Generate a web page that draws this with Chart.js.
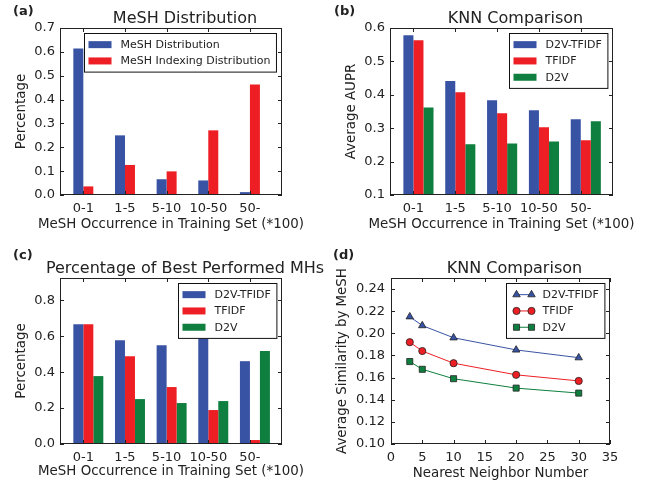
<!DOCTYPE html>
<html>
<head>
<meta charset="utf-8">
<script src="https://cdn.jsdelivr.net/npm/chart.js@4/dist/chart.umd.min.js"></script>
<style>
  body { margin: 0; background: #fff; }
  #wrap { position: relative; width: 657px; height: 486px; }
  canvas { position: absolute; }
</style>
</head>
<body>
<div id="wrap">
  <canvas id="chartA" width="330" height="240" style="left:0;top:0"></canvas>
  <canvas id="chartB" width="327" height="240" style="left:330px;top:0"></canvas>
  <canvas id="chartC" width="330" height="246" style="left:0;top:240px"></canvas>
  <canvas id="chartD" width="327" height="246" style="left:330px;top:240px"></canvas>
</div>
<script>
/* Data */
const categories = ['0-1', '1-5', '5-10', '10-50', '50-'];

// (a) MeSH Distribution
const meshDistribution = [0.614, 0.250, 0.066, 0.061, 0.012];
const meshIndexingDistribution = [0.036, 0.126, 0.099, 0.271, 0.463];
const yTicksA = [0, 0.1, 0.2, 0.3, 0.4, 0.5, 0.6, 0.7];

// (b) KNN Comparison, average AUPR
const auprD2vTfidf = [0.578, 0.441, 0.384, 0.354, 0.327];
const auprTfidf = [0.563, 0.408, 0.345, 0.303, 0.264];
const auprD2v = [0.362, 0.252, 0.254, 0.260, 0.321];
const yTicksB = [0.1, 0.2, 0.3, 0.4, 0.5, 0.6];

// (c) Percentage of best performed MHs
const bestD2vTfidf = [0.667, 0.578, 0.550, 0.589, 0.461];
const bestTfidf = [0.667, 0.489, 0.317, 0.189, 0.022];
const bestD2v = [0.378, 0.250, 0.228, 0.239, 0.517];
const yTicksC = [0, 0.2, 0.4, 0.6, 0.8];

// (d) KNN Comparison, similarity vs neighbours
const neighbors = [3, 5, 10, 20, 30];
const simD2vTfidf = [0.215, 0.207, 0.196, 0.185, 0.178];
const simTfidf = [0.192, 0.184, 0.173, 0.1625, 0.157];
const simD2v = [0.1745, 0.1675, 0.159, 0.1505, 0.146];
const xTicksD = [0, 5, 10, 15, 20, 25, 30, 35];
const yTicksD = [0.10, 0.12, 0.14, 0.16, 0.18, 0.20, 0.22, 0.24];

const BLUE = '#3953a4';
const RED = '#ed1f24';
const GREEN = '#0e7f3e';
const INK = '#222';
const BAR_W = 0.24;
const X_LABEL = 'MeSH Occurrence in Training Set (*100)';

Chart.defaults.font.family = '"DejaVu Sans", sans-serif';
Chart.defaults.color = INK;

function drawMarker(ctx, style, x, y, r) {
    ctx.beginPath();
    if (style === 'triangle') {
        ctx.moveTo(x, y - r);
        ctx.lineTo(x + r * 0.866, y + r * 0.5);
        ctx.lineTo(x - r * 0.866, y + r * 0.5);
        ctx.closePath();
    } else if (style === 'rect') {
        const h = r * Math.SQRT1_2;
        ctx.rect(x - h, y - h, 2 * h, 2 * h);
    } else {
        ctx.arc(x, y, r, 0, Math.PI * 2);
    }
    ctx.fill();
    ctx.stroke();
}

/* Frame, inward ticks, titles, panel letter and boxed legend */
const panelPlugin = {
    id: 'panel',
    afterDraw(chart, args, opts) {
        const { ctx, chartArea: a } = chart;
        const xs = chart.scales.x, ys = chart.scales.y;
        ctx.save();
        ctx.strokeStyle = INK;
        ctx.lineWidth = 1;
        ctx.strokeRect(a.left + 0.5, a.top + 0.5, a.right - a.left - 1, a.bottom - a.top - 1);

        ctx.beginPath();
        xs.ticks.forEach(t => {
            const px = Math.round(xs.getPixelForValue(t.value)) + 0.5;
            ctx.moveTo(px, a.bottom); ctx.lineTo(px, a.bottom - 4);
            ctx.moveTo(px, a.top); ctx.lineTo(px, a.top + 4);
        });
        ys.ticks.forEach(t => {
            const py = Math.round(ys.getPixelForValue(t.value)) + 0.5;
            ctx.moveTo(a.left, py); ctx.lineTo(a.left + 4, py);
            ctx.moveTo(a.right, py); ctx.lineTo(a.right - 4, py);
        });
        ctx.stroke();

        // title and panel letter
        ctx.fillStyle = INK;
        ctx.textBaseline = 'alphabetic';
        ctx.textAlign = 'center';
        ctx.font = '16px "DejaVu Sans"';
        ctx.fillText(opts.title, (a.left + a.right) / 2 + 14, a.top - 5);
        ctx.textAlign = 'left';
        ctx.font = 'bold 13px "DejaVu Sans"';
        ctx.fillText(opts.letter, opts.letterX, opts.letterY);

        // axis titles (drawn here so they are not squeezed to the axis width)
        ctx.font = '13.4px "DejaVu Sans"';
        ctx.textAlign = 'center';
        ctx.textBaseline = 'middle';
        ctx.fillText(opts.xTitle, (a.left + a.right) / 2, opts.xTitleY);
        ctx.save();
        ctx.translate(opts.yTitleX, (a.top + a.bottom) / 2);
        ctx.rotate(-Math.PI / 2);
        ctx.fillText(opts.yTitle, 0, 0);
        ctx.restore();

        // legend
        const items = chart.data.datasets;
        ctx.font = '11px "DejaVu Sans"';
        ctx.textAlign = 'left';
        const textW = Math.max(...items.map(d => ctx.measureText(d.label).width));
        const rowH = 16.3, pad = 3;
        const w = 4 + 23 + 9 + textW + 6;
        const h = items.length * rowH + pad * 2;
        const bx = Math.round(a.right - 6 - w) + 0.5, by = Math.round(a.top + 5) + 0.5;
        ctx.fillStyle = '#fff';
        ctx.fillRect(bx, by, w, h);
        ctx.strokeStyle = '#111';
        ctx.lineWidth = 1;
        ctx.strokeRect(bx, by, w, h);
        items.forEach((d, i) => {
            const cy = by + pad + rowH * (i + 0.5);
            if (opts.lineLegend) {
                ctx.strokeStyle = d.borderColor;
                ctx.lineWidth = 1;
                ctx.beginPath();
                ctx.moveTo(bx + 10, cy); ctx.lineTo(bx + 25, cy);
                ctx.stroke();
                ctx.fillStyle = d.pointBackgroundColor;
                ctx.strokeStyle = d.pointBorderColor;
                ctx.lineWidth = d.pointBorderWidth;
                drawMarker(ctx, d.pointStyle, bx + 10, cy, d.pointRadius);
                drawMarker(ctx, d.pointStyle, bx + 25, cy, d.pointRadius);
            } else {
                ctx.fillStyle = d.backgroundColor;
                ctx.fillRect(bx + 4, cy - 3.5, 23, 7);
            }
            ctx.fillStyle = INK;
            ctx.textBaseline = 'middle';
            ctx.fillText(d.label, bx + 36, cy + 0.5);
        });
        ctx.restore();
    }
};

function yAxis(ticks, min, max, size, digits) {
    return {
        min: min, max: max,
        grid: { display: false, drawTicks: false },
        border: { display: false },
        afterBuildTicks: s => { s.ticks = ticks.map(v => ({ value: v })); },
        afterFit: s => { s.width = size.yw; },
        ticks: { callback: v => v.toFixed(digits), padding: size.ytp, font: { size: 13 }, color: INK }
    };
}

function barChart(id, series, yTicks, yMin, yMax, panel, size) {
    const shift = (series.length - 2) * BAR_W / 2;
    return new Chart(document.getElementById(id), {
        type: 'bar',
        data: {
            datasets: series.map(s => ({
                label: s.label,
                backgroundColor: s.color,
                borderWidth: 0,
                categoryPercentage: BAR_W * series.length,
                barPercentage: 1,
                data: s.values.map((v, i) => ({ x: i, y: v }))
            }))
        },
        options: {
            responsive: false,
            animation: false,
            layout: { padding: { top: size.top, right: size.right, left: 0, bottom: 0 } },
            plugins: { legend: { display: false }, tooltip: { enabled: false }, panel: panel },
            scales: {
                x: {
                    type: 'linear',
                    min: -shift - 0.56, max: 4 - shift + 0.77,
                    offset: false,
                    grid: { display: false, drawTicks: false, offset: false },
                    border: { display: false },
                    afterBuildTicks: s => { s.ticks = categories.map((c, i) => ({ value: i - shift })); },
                    afterFit: s => { s.height = size.xh; },
                    ticks: { callback: (v, i) => categories[i], padding: 6, autoSkip: false, maxRotation: 0, font: { size: 13 }, color: INK }
                },
                y: yAxis(yTicks, yMin, yMax, size, 1)
            }
        },
        plugins: [panelPlugin]
    });
}

// (a)
barChart('chartA', [
    { label: 'MeSH Distribution', color: BLUE, values: meshDistribution },
    { label: 'MeSH Indexing Distribution', color: RED, values: meshIndexingDistribution }
], yTicksA, 0, 0.7,
    { title: 'MeSH Distribution', letter: '(a)', letterX: 13, letterY: 15,
      xTitle: X_LABEL, xTitleY: 225, yTitle: 'Percentage', yTitleX: 22 },
    { top: 28, right: 48, xh: 45, yw: 60, ytp: 5 });

// (b)
barChart('chartB', [
    { label: 'D2V-TFIDF', color: BLUE, values: auprD2vTfidf },
    { label: 'TFIDF', color: RED, values: auprTfidf },
    { label: 'D2V', color: GREEN, values: auprD2v }
], yTicksB, 0.1, 0.6,
    { title: 'KNN Comparison', letter: '(b)', letterX: 4, letterY: 15,
      xTitle: X_LABEL, xTitleY: 225, yTitle: 'Average AUPR', yTitleX: 22 },
    { top: 28, right: 44, xh: 45, yw: 60, ytp: 5 });

// (c)
barChart('chartC', [
    { label: 'D2V-TFIDF', color: BLUE, values: bestD2vTfidf },
    { label: 'TFIDF', color: RED, values: bestTfidf },
    { label: 'D2V', color: GREEN, values: bestD2v }
], yTicksC, 0, 0.924,
    { title: 'Percentage of Best Performed MHs', letter: '(c)', letterX: 13, letterY: 18.5,
      xTitle: X_LABEL, xTitleY: 231.5, yTitle: 'Percentage', yTitleX: 22 },
    { top: 38, right: 48, xh: 42, yw: 60, ytp: 5 });

// (d)
const lineSeries = [
    { label: 'D2V-TFIDF', color: BLUE, style: 'triangle', r: 4.3, values: simD2vTfidf },
    { label: 'TFIDF', color: RED, style: 'circle', r: 3.6, values: simTfidf },
    { label: 'D2V', color: GREEN, style: 'rect', r: 4.3, values: simD2v }
];
const sizeD = { top: 38, right: 47, xh: 42, yw: 61, ytp: 6 };
new Chart(document.getElementById('chartD'), {
    type: 'line',
    data: {
        datasets: lineSeries.map(s => ({
            label: s.label,
            borderColor: s.color,
            borderWidth: 1,
            pointStyle: s.style,
            pointRadius: s.r,
            pointBackgroundColor: s.color,
            pointBorderColor: '#222',
            pointBorderWidth: 0.8,
            tension: 0,
            data: s.values.map((v, i) => ({ x: neighbors[i], y: v }))
        }))
    },
    options: {
        responsive: false,
        animation: false,
        layout: { padding: { top: sizeD.top, right: sizeD.right, left: 0, bottom: 0 } },
        plugins: {
            legend: { display: false }, tooltip: { enabled: false },
            panel: { title: 'KNN Comparison', letter: '(d)', letterX: 3, letterY: 18.5, lineLegend: true,
                     xTitle: 'Nearest Neighbor Number', xTitleY: 233.5,
                     yTitle: 'Average Similarity by MeSH', yTitleX: 12.5 }
        },
        scales: {
            x: {
                type: 'linear', min: 0, max: 35,
                grid: { display: false, drawTicks: false },
                border: { display: false },
                afterBuildTicks: s => { s.ticks = xTicksD.map(v => ({ value: v })); },
                afterFit: s => { s.height = sizeD.xh; },
                ticks: { callback: v => String(v), padding: 6, maxRotation: 0, font: { size: 13 }, color: INK }
            },
            y: yAxis(yTicksD, 0.10, 0.25, sizeD, 2)
        }
    },
    plugins: [panelPlugin]
});
</script>
</body>
</html>
